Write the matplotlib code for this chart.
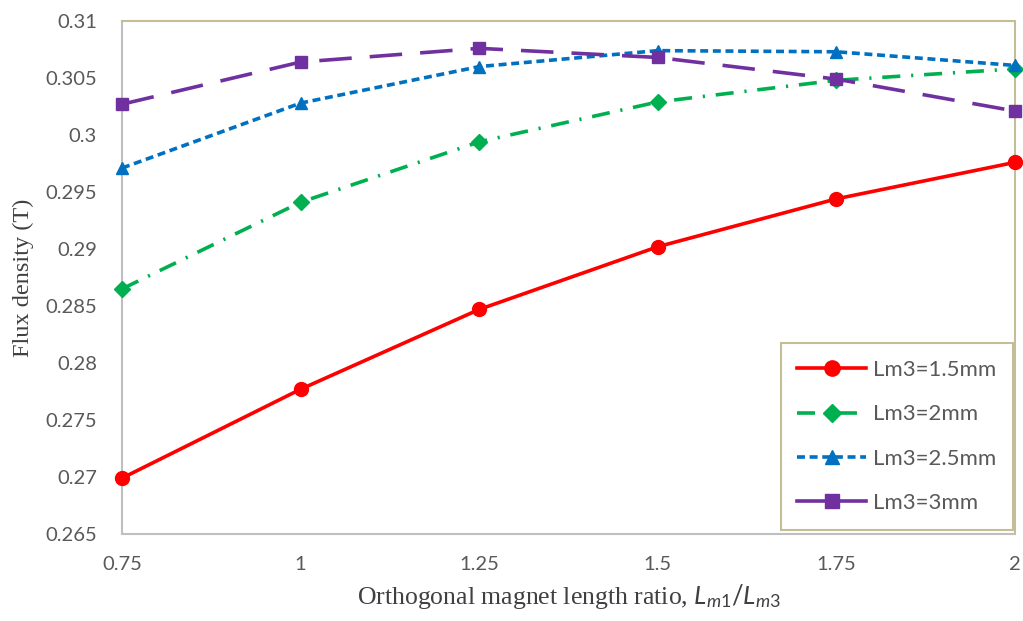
import matplotlib
matplotlib.use("Agg")
import matplotlib.pyplot as plt

ratios = [0.75, 1.0, 1.25, 1.5, 1.75, 2.0]
lm3_15 = [0.2699, 0.2777, 0.2847, 0.2902, 0.2944, 0.2976]
lm3_20 = [0.2865, 0.2941, 0.2994, 0.3029, 0.3048, 0.3058]
lm3_25 = [0.2971, 0.3028, 0.3060, 0.3074, 0.3073, 0.3061]
lm3_30 = [0.3027, 0.3064, 0.3076, 0.3068, 0.3049, 0.3021]
labels = ["Lm3=1.5mm", "Lm3=2mm", "Lm3=2.5mm", "Lm3=3mm"]
yticks = [0.265, 0.27, 0.275, 0.28, 0.285, 0.29, 0.295, 0.3, 0.305, 0.31]
ytick_labels = ["0.265", "0.27", "0.275", "0.28", "0.285", "0.29", "0.295", "0.3", "0.305", "0.31"]
xtick_labels = ["0.75", "1", "1.25", "1.5", "1.75", "2"]

plt.rcParams['mathtext.fontset'] = 'custom'
plt.rcParams['mathtext.it'] = 'Lato:italic'
plt.rcParams['mathtext.rm'] = 'Lato'

fig = plt.figure(figsize=(10.23, 6.21), dpi=100)
ax = fig.add_axes([0.1193, 0.1401, 0.8729, 0.8261])

ax.plot(ratios, lm3_15, color='#FF0000', lw=2.6, ls='-', marker='o', ms=10, label=labels[0], clip_on=False, zorder=5)
ax.plot(ratios, lm3_20, color='#00B050', lw=2.6, ls=(0, (5, 3, 0.6, 3)), marker='D', ms=8, label=labels[1], clip_on=False, zorder=4)
ax.plot(ratios, lm3_25, color='#0070C0', lw=2.6, ls=(0, (2.2, 1.3)), marker='^', ms=9, label=labels[2], clip_on=False, zorder=4)
ax.plot(ratios, lm3_30, color='#7030A0', lw=2.6, ls=(0, (9, 5)), marker='s', ms=9, label=labels[3], clip_on=False, zorder=4)

ax.set_xlim(0.75, 2.0)
ax.set_ylim(0.265, 0.31)
ax.set_xticks(ratios)
ax.set_xticklabels(xtick_labels, family='Lato', fontsize=14.5, color='#595959')
ax.set_yticks(yticks)
ax.set_yticklabels(ytick_labels, family='Lato', fontsize=14.5, color='#595959')
ax.tick_params(axis='x', length=0, pad=16)
ax.tick_params(axis='y', length=0, pad=18)

for s in ['left', 'bottom']:
    ax.spines[s].set_color('#BFBFBF')
    ax.spines[s].set_linewidth(1.5)
for s in ['top', 'right']:
    ax.spines[s].set_color('#C4BD97')
    ax.spines[s].set_linewidth(1.5)

ax.set_ylabel("Flux density (T)", family='Liberation Serif', fontsize=17.5, color='#404040', labelpad=8)
ax.set_xlabel(r"Orthogonal magnet length ratio, $L_{m1}/L_{m3}$", family='Liberation Serif',
              fontsize=18.5, color='#404040', labelpad=6)

leg = ax.legend(loc='lower right', bbox_to_anchor=(0.9975, 0.008), prop={'family': 'Lato', 'size': 16},
                handlelength=3.1, labelspacing=1.1, borderpad=0.75, fancybox=False,
                edgecolor='#C4BD97', framealpha=1, handletextpad=0.3, borderaxespad=0.0,
                markerscale=1.1)
leg.get_frame().set_linewidth(1.5)
for t in leg.get_texts():
    t.set_color('#595959')
leg_lines = leg.get_lines()
if len(leg_lines) >= 4:
    leg_lines[3].set_linestyle('-')

fig.savefig("out.png", dpi=100)
